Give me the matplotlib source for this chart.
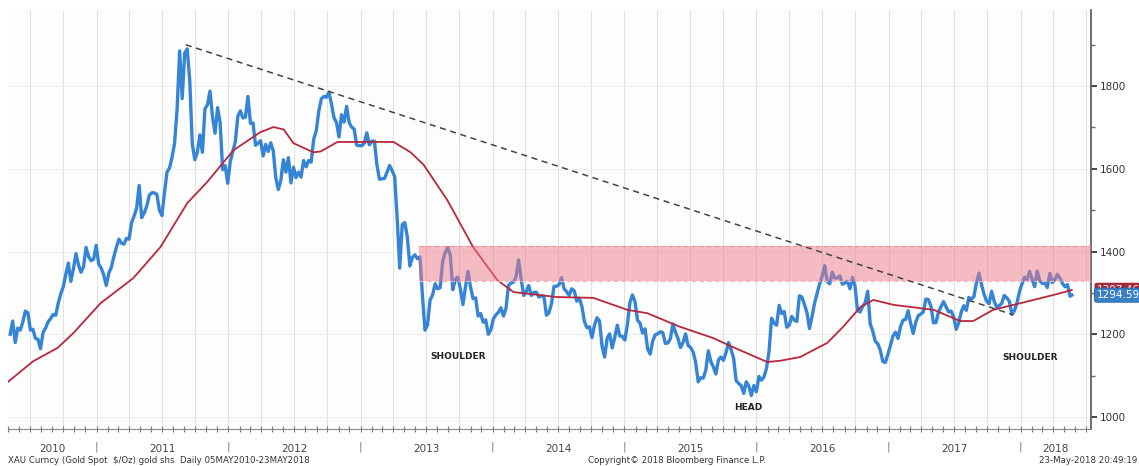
import numpy as np
import pandas as pd
import matplotlib
matplotlib.use('Agg')
import matplotlib.pyplot as plt
import matplotlib.dates as mdates
from matplotlib.ticker import MultipleLocator, NullFormatter
from matplotlib.transforms import blended_transform_factory

# weekly gold spot ($/oz), one list per calendar year
week_starts = ['2010-05-07', '2011-01-07', '2012-01-06', '2013-01-04', '2014-01-03',
               '2015-01-02', '2016-01-01', '2017-01-06', '2018-01-05']
gold_2010 = [1200, 1232, 1180, 1215, 1210, 1230, 1256, 1252, 1210, 1212, 1190, 1188, 1165, 1204, 1215,
             1230, 1238, 1248, 1246, 1275, 1298, 1315, 1345, 1372, 1328, 1358, 1395, 1368, 1350, 1363,
             1410, 1388, 1378, 1382, 1415]
gold_2011 = [1370, 1360, 1343, 1318, 1348, 1362, 1388, 1410, 1430, 1420, 1418, 1432, 1430, 1470, 1486,
             1505, 1560, 1482, 1493, 1510, 1536, 1542, 1542, 1538, 1500, 1487, 1542, 1592, 1602, 1628,
             1662, 1745, 1885, 1770, 1880, 1890, 1812, 1660, 1622, 1640, 1682, 1640, 1745, 1755, 1788,
             1725, 1686, 1748, 1712, 1598, 1608, 1565]
gold_2012 = [1617, 1642, 1665, 1727, 1740, 1723, 1725, 1775, 1710, 1711, 1657, 1662, 1668, 1631, 1659,
             1642, 1663, 1644, 1579, 1550, 1572, 1622, 1592, 1627, 1566, 1604, 1579, 1592, 1580, 1620,
             1605, 1620, 1616, 1672, 1692, 1739, 1769, 1775, 1773, 1785, 1758, 1724, 1712, 1677, 1731,
             1713, 1751, 1712, 1701, 1696, 1657, 1656]
gold_2013 = [1656, 1662, 1687, 1658, 1667, 1667, 1609, 1575, 1576, 1577, 1592, 1608, 1596, 1581, 1480,
             1360, 1465, 1470, 1436, 1365, 1386, 1392, 1383, 1387, 1292, 1210, 1223, 1283, 1295, 1322,
             1310, 1313, 1377, 1398, 1410, 1391, 1308, 1333, 1338, 1309, 1272, 1315, 1352, 1314, 1286,
             1288, 1244, 1250, 1229, 1235, 1200, 1210]
gold_2014 = [1237, 1247, 1253, 1264, 1244, 1262, 1318, 1324, 1326, 1339, 1380, 1334, 1294, 1303, 1318,
             1294, 1301, 1302, 1290, 1293, 1292, 1246, 1252, 1274, 1316, 1316, 1320, 1337, 1310, 1303,
             1294, 1310, 1305, 1280, 1287, 1268, 1231, 1216, 1218, 1192, 1222, 1240, 1232, 1171, 1145,
             1190, 1201, 1167, 1192, 1222, 1196, 1195]
gold_2015 = [1186, 1223, 1277, 1295, 1279, 1234, 1227, 1203, 1213, 1165, 1152, 1183, 1199, 1201, 1206,
             1204, 1178, 1179, 1189, 1225, 1205, 1190, 1168, 1180, 1201, 1173, 1168, 1157, 1132, 1085,
             1095, 1094, 1113, 1160, 1134, 1121, 1104, 1138, 1145, 1137, 1156, 1180, 1163, 1142, 1088,
             1081, 1076, 1057, 1085, 1075, 1052, 1076]
gold_2016 = [1061, 1098, 1089, 1097, 1118, 1158, 1239, 1227, 1222, 1270, 1250, 1255, 1217, 1222, 1243,
             1234, 1231, 1293, 1290, 1272, 1252, 1214, 1243, 1275, 1298, 1322, 1340, 1366, 1328, 1322,
             1350, 1336, 1336, 1341, 1321, 1324, 1328, 1310, 1338, 1316, 1257, 1254, 1267, 1276, 1304,
             1225, 1208, 1183, 1177, 1161, 1134, 1132, 1152]
gold_2017 = [1173, 1196, 1205, 1190, 1219, 1234, 1236, 1257, 1226, 1202, 1229, 1245, 1249, 1254, 1285,
             1284, 1268, 1228, 1228, 1254, 1267, 1279, 1266, 1254, 1256, 1242, 1212, 1228, 1254, 1269,
             1258, 1289, 1285, 1291, 1325, 1348, 1320, 1297, 1280, 1274, 1304, 1280, 1266, 1269, 1275,
             1294, 1288, 1280, 1248, 1257, 1275, 1303]
gold_2018 = [1322, 1338, 1332, 1352, 1333, 1315, 1353, 1330, 1323, 1324, 1313, 1347, 1325, 1332, 1345,
             1336, 1323, 1315, 1320, 1292]
last_date = '2018-05-23'
last_gold = 1294.59

# moving average (red)
ma_dates = ['2010-05-01', '2010-07-10', '2010-09-15', '2010-10-29', '2011-01-12', '2011-04-13',
            '2011-06-27', '2011-09-09', '2011-11-03', '2012-01-15', '2012-03-30', '2012-05-05',
            '2012-06-02', '2012-06-29', '2012-08-23', '2012-09-12', '2012-10-29', '2013-04-02',
            '2013-05-19', '2013-06-24', '2013-08-29', '2013-11-08', '2014-01-14', '2014-02-28',
            '2014-06-29', '2014-10-07', '2015-01-09', '2015-03-05', '2015-06-04', '2015-09-03',
            '2015-10-28', '2016-01-31', '2016-03-07', '2016-05-01', '2016-07-15', '2016-08-28',
            '2016-10-15', '2016-11-20', '2017-01-15', '2017-03-03', '2017-05-06', '2017-07-18',
            '2017-08-23', '2017-10-17', '2017-12-12', '2018-02-06', '2018-04-02', '2018-05-23']
ma_values = [1085, 1135, 1167, 1203, 1275, 1336, 1411, 1517, 1568, 1645, 1689, 1701,
             1695, 1662, 1640, 1642, 1665, 1665, 1640, 1610, 1524, 1411, 1331, 1302,
             1290, 1288, 1259, 1251, 1218, 1191, 1169, 1133, 1136, 1145, 1179, 1218,
             1266, 1283, 1271, 1266, 1259, 1232, 1232, 1259, 1271, 1283, 1295, 1307]
last_ma = 1307.46

band_low, band_high = 1330, 1413
band_start = '2013-06-10'
trend_dates = ['2011-09-05', '2017-12-12']
trend_values = [1900, 1247]
notes = [('SHOULDER', '2013-09-27', 1147), ('HEAD', '2015-12-09', 1022), ('SHOULDER', '2018-01-28', 1145)]
years = list(range(2010, 2019))

x_start, x_end = pd.Timestamp('2010-05-01'), pd.Timestamp('2018-07-15')

weekly = [gold_2010, gold_2011, gold_2012, gold_2013, gold_2014, gold_2015, gold_2016, gold_2017, gold_2018]
dates = []
vals = []
for start, v in zip(week_starts, weekly):
    dates.extend(pd.date_range(start, periods=len(v), freq='7D'))
    vals.extend(v)
dates.append(pd.Timestamp(last_date))
vals.append(last_gold)

plt.rcParams['font.family'] = 'DejaVu Sans'
fig = plt.figure(figsize=(11.39, 4.66), dpi=100)
fig.patch.set_facecolor('white')
ax = fig.add_axes([8/1139, 37/466, 1083/1139, 419/466])
ax.set_facecolor('#fdfdfd')

ax.plot(dates, vals, color='#3584d6', lw=2.4, zorder=3, solid_joinstyle='round')
ax.plot(pd.to_datetime(ma_dates), ma_values, color='#b7283c', lw=1.3, zorder=4)

# resistance band, drawn over the price so it turns purple there
bx = [pd.Timestamp(band_start), x_end]
ax.fill_between(bx, band_low, band_high, color='#ef7a88', alpha=0.5, lw=0, zorder=5)
ax.plot(bx, [band_high, band_high], color='#f08f9c', lw=0.8, ls=(0, (4, 3)), zorder=5)
ax.plot(bx, [band_low, band_low], color='#f5b3bc', lw=0.8, ls=(0, (4, 3)), zorder=5)

ax.plot(pd.to_datetime(trend_dates), trend_values, color='#444444', lw=1.1, ls=(0, (4, 3)), zorder=6)

for txt, d, v in notes:
    ax.text(pd.Timestamp(d), v, txt, fontsize=6.5, fontweight='bold', color='#222222',
            ha='center', va='center', zorder=7)

ax.set_xlim(x_start, x_end)
ax.set_ylim(971, 1984)

ax.yaxis.tick_right()
ax.yaxis.set_major_locator(MultipleLocator(200))
ax.yaxis.set_minor_locator(MultipleLocator(100))
ax.tick_params(axis='y', which='major', direction='out', length=4, width=1.4, color='#444444',
               labelsize=7.5, labelcolor='#333333', pad=2)
ax.tick_params(axis='y', which='minor', direction='out', length=3, width=1, color='#666666')

ax.xaxis.set_major_locator(mdates.MonthLocator(bymonth=[1, 4, 7, 10]))
ax.xaxis.set_minor_locator(mdates.MonthLocator())
ax.xaxis.set_major_formatter(NullFormatter())
ax.tick_params(axis='x', which='both', direction='inout', length=4, width=0.8, color='#777777')

ax.grid(axis='x', which='major', color='#e2e2e2', lw=0.8)
ax.grid(axis='y', which='major', color='#ededed', lw=0.8)
ax.set_axisbelow(True)

for s in ['top', 'left']:
    ax.spines[s].set_visible(False)
ax.spines['right'].set_color('#555555')
ax.spines['right'].set_linewidth(1.2)
ax.spines['bottom'].set_color('#888888')

# year labels and separators
trans = blended_transform_factory(ax.transData, ax.transAxes)
for y in years:
    lo = max(pd.Timestamp(f'{y}-01-01'), x_start)
    hi = min(pd.Timestamp(f'{y + 1}-01-01'), x_end)
    ax.text(lo + (hi - lo) / 2, -0.048, str(y), transform=trans, ha='center', va='center',
            fontsize=7.5, color='#444444')
    if y > 2010:
        ax.text(pd.Timestamp(f'{y}-01-01'), -0.042, '|', transform=trans, ha='center', va='center',
                fontsize=8, color='#777777')

# last value tags (red one mostly hidden behind the blue one)
ax.annotate(f'{last_ma:.2f}', xy=(1.0, last_ma), xycoords=('axes fraction', 'data'),
            xytext=(4, 0), textcoords='offset points', ha='left', va='center', fontsize=7.5,
            color='white', annotation_clip=False, zorder=8,
            bbox=dict(boxstyle='round,pad=0.2', fc='#a3283a', ec='none'))
ax.annotate(f'{last_gold:.2f}', xy=(1.0, last_gold), xycoords=('axes fraction', 'data'),
            xytext=(4, 0), textcoords='offset points', ha='left', va='center', fontsize=7.5,
            color='white', annotation_clip=False, zorder=9,
            bbox=dict(boxstyle='round,pad=0.2', fc='#3a80c9', ec='#2a65a8', lw=0.6))

fig.text(8/1139, 0.011, 'XAU Curncy (Gold Spot  $/Oz) gold shs  Daily 05MAY2010-23MAY2018',
         fontsize=6.2, color='#333333', ha='left', va='center')
fig.text(588/1139, 0.011, 'Copyright\u00a9 2018 Bloomberg Finance L.P.', fontsize=6.2,
         color='#333333', ha='left', va='center')
fig.text(1137/1139, 0.011, '23-May-2018 20:49:19', fontsize=6.2, color='#333333',
         ha='right', va='center')

fig.savefig('out.png', dpi=100)
